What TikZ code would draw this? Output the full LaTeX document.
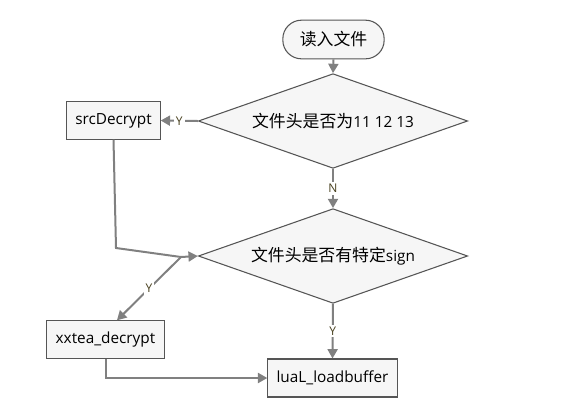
\documentclass[tikz,border=0pt]{standalone}
\usepackage{fontspec}
\setmainfont{Open Sans}
\newfontfamily\cjk[Scale=1.1]{Noto Sans CJK SC}
\usepackage{xcolor}
\usetikzlibrary{arrows.meta,positioning,shapes.geometric}

\definecolor{boxline}{RGB}{85,85,85}
\definecolor{boxfill}{RGB}{246,246,246}
\definecolor{linegray}{RGB}{128,128,128}
\definecolor{lblcolor}{RGB}{72,64,30}

\begin{document}
\begin{tikzpicture}[
  x=0.75pt, y=-0.75pt,
  >={Triangle[length=7pt,width=7.5pt]},
  box/.style={draw=boxline, fill=boxfill, line width=0.8pt, minimum height=28pt, inner sep=2pt, font=\fontsize{11.5}{13}\selectfont},
  startbox/.style={box, rounded corners=14pt, minimum width=76pt, minimum height=29pt},
  choice/.style={diamond, aspect=2.84, draw=boxline, fill=boxfill, line width=0.8pt, minimum width=202pt, minimum height=71pt, inner sep=0pt, font=\fontsize{11.5}{13}\selectfont},
  arr/.style={->, line width=1.5pt, draw=linegray},
  lbl/.style={fill=white, font=\fontsize{9}{10}\selectfont, text=lblcolor, inner sep=1.5pt},
]
\useasboundingbox (0,0) rectangle (572,419);

%------------------- Nodes -------------------
\node (start) [startbox] at (333.5,39.5) {\cjk 读入文件};
\node (head) [choice] at (333,121) {{\cjk 文件头是否为}11 12 13};
\node (sign) [choice] at (333,256) {{\cjk 文件头是否有特定}sign};
\node (src) [box, minimum width=70pt] at (113.5,120.5) {srcDecrypt};
\node (xxtea) [box, minimum width=88pt] at (105.5,339.5) {xxtea\_decrypt};
\node (load) [box, minimum width=97pt, minimum height=28.5pt] at (332.5,378) {luaL\_loadbuffer};

% bends of the srcDecrypt line
\coordinate (bend) at (116,248);
\coordinate (split) at (181,257);

%------------------- Arrows -------------------
\draw[arr] (start.south) -- (head.north);                       % read -> first check
\draw[arr] (head.west) -- node[lbl] {Y} (src.east);              % 11 12 13 -> srcDecrypt
\draw[arr] (head.south) -- node[lbl] {N} (sign.north);           % no -> sign check
\draw[arr] (src.south) -- (bend) -- (split) -- (sign.west);       % srcDecrypt -> sign check
\draw[arr] (split) -- node[lbl] {Y} ([xshift=8.6pt]xxtea.north);  % sign -> xxtea
\draw[arr] (sign.south) -- node[lbl] {Y} (load.north);           % sign -> loadbuffer
\draw[arr] (xxtea.south) |- (load.west);                         % xxtea -> loadbuffer

\end{tikzpicture}
\end{document}
